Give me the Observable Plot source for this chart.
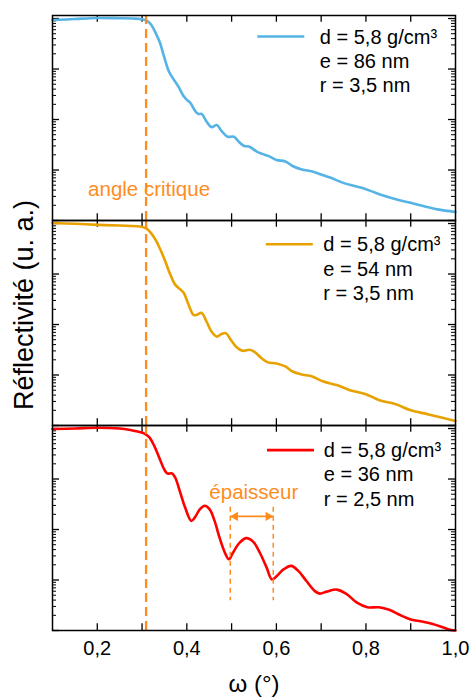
<!DOCTYPE html>
<html><head><meta charset="utf-8">
<script src="https://cdn.jsdelivr.net/npm/d3@7"></script>
<script src="https://cdn.jsdelivr.net/npm/@observablehq/plot@0.6"></script>
<style>
body{margin:0;background:#fff;}
#chart svg{display:block;}
</style>
</head><body><div id="chart"></div>
<script>
// ---- data (ω in degrees, log10 of reflectivity) ----
const panels = ["a", "b", "c"];
const seriesColors = ["#55B3E6", "#E8A200", "#FF0000"];

const blueOmega = [0.10,0.15,0.20,0.25,0.28,0.30,0.312,0.32,0.33,0.34,0.349,0.36,0.371,0.38,0.393,0.40,0.407,0.42,0.426,0.433,0.444,0.455,0.467,0.477,0.491,0.505,0.516,0.527,0.54,0.557,0.568,0.582,0.60,0.62,0.636,0.657,0.68,0.70,0.72,0.748,0.80,0.83,0.867,0.90,0.93,0.96,1.00];
const blueLogR  = [-0.03,-0.01,0.01,0.005,0.0,-0.015,-0.05,-0.12,-0.28,-0.48,-0.75,-1.05,-1.21,-1.33,-1.54,-1.61,-1.66,-1.85,-1.89,-1.89,-2.04,-2.15,-2.11,-2.22,-2.34,-2.34,-2.44,-2.52,-2.54,-2.64,-2.68,-2.72,-2.80,-2.83,-2.92,-2.99,-3.03,-3.09,-3.15,-3.25,-3.38,-3.48,-3.58,-3.65,-3.72,-3.78,-3.83];

const orangeOmega = [0.10,0.15,0.20,0.25,0.295,0.31,0.32,0.33,0.341,0.352,0.363,0.374,0.386,0.393,0.404,0.415,0.422,0.433,0.444,0.455,0.467,0.477,0.487,0.498,0.51,0.524,0.54,0.551,0.567,0.581,0.60,0.62,0.636,0.657,0.68,0.705,0.735,0.764,0.80,0.83,0.867,0.90,0.94,1.00];
const orangeLogR  = [0.01,-0.005,-0.026,-0.04,-0.06,-0.10,-0.19,-0.32,-0.52,-0.75,-1.01,-1.21,-1.31,-1.37,-1.61,-1.81,-1.81,-1.77,-1.94,-2.14,-2.24,-2.19,-2.17,-2.30,-2.44,-2.52,-2.50,-2.54,-2.67,-2.75,-2.77,-2.83,-2.93,-2.99,-3.03,-3.13,-3.20,-3.30,-3.38,-3.50,-3.58,-3.70,-3.78,-3.91];

const redOmega = [0.10,0.15,0.20,0.25,0.274,0.29,0.303,0.316,0.327,0.338,0.349,0.356,0.367,0.374,0.385,0.396,0.41,0.418,0.429,0.44,0.451,0.462,0.473,0.485,0.494,0.503,0.518,0.533,0.548,0.563,0.578,0.59,0.601,0.616,0.633,0.649,0.667,0.686,0.697,0.712,0.735,0.757,0.78,0.803,0.829,0.852,0.878,0.90,0.93,0.949,0.97,0.99,1.00];
const redLogR  = [-0.01,0.0,0.016,0.0,-0.03,-0.06,-0.09,-0.17,-0.34,-0.57,-0.80,-0.89,-0.89,-0.97,-1.26,-1.56,-1.83,-1.76,-1.60,-1.53,-1.60,-1.83,-2.16,-2.46,-2.59,-2.46,-2.26,-2.17,-2.24,-2.46,-2.75,-2.99,-2.92,-2.79,-2.72,-2.82,-3.02,-3.22,-3.27,-3.23,-3.19,-3.28,-3.45,-3.54,-3.54,-3.59,-3.70,-3.78,-3.83,-3.87,-3.93,-3.99,-4.0];

const legendLines = [
  ["d = 5,8 g/cm³", "e = 86 nm", "r = 3,5 nm"],
  ["d = 5,8 g/cm³", "e = 54 nm", "r = 3,5 nm"],
  ["d = 5,8 g/cm³", "e = 36 nm", "r = 2,5 nm"]
];
const xTickLabels = [0.2, 0.4, 0.6, 0.8, 1.0];
const xTickMarks = [0.2, 0.3, 0.4, 0.5, 0.6, 0.7, 0.8, 0.9];
const criticalAngle = 0.309;
const thicknessMarks = [0.497, 0.593];
const thicknessSpanLogR = [-1.56, -3.41];
const thicknessArrowLogR = -1.74;
const thicknessTextLogR = -1.39;
const xLabel = "ω (°)";
const yLabel = "Réflectivité (u. a.)";

// ---- build table ----
const seriesList = [
  {panel: "a", omega: blueOmega, logR: blueLogR},
  {panel: "b", omega: orangeOmega, logR: orangeLogR},
  {panel: "c", omega: redOmega, logR: redLogR}
];
const rows = seriesList.flatMap(s => s.omega.map((w, i) => ({panel: s.panel, w, R: 10 ** s.logR[i]})));
const legend = panels.map((p, i) => ({panel: p, text: legendLines[i].join("\n")}));

// ---- layout / style ----
const W = 469, H = 697, mL = 52, mR = 14, mT = 15, mB = 66.3;
const innerW = W - mL - mR;
const facetH = (H - mT - mB) / 3;
const annot = "#FF8C1F";
const font = "'Liberation Sans', Arial, sans-serif";
const legendStyle = [
  {lineDx: 228.3, lineDy: 21, textDx: 267.3, textDy: 11},
  {lineDx: 236.8, lineDy: 23.8, textDx: 270.7, textDy: 13.8},
  {lineDx: 238, lineDy: 24.6, textDx: 271.3, textDy: 14.6}
];
const hline = {draw(ctx) { ctx.moveTo(-23.5, 0); ctx.lineTo(23.5, 0); }};

const yMajor = d3.range(-4, 1).map(k => 10 ** k);
const yMinor = d3.range(-4, 0).flatMap(k => d3.range(2, 10).map(m => m * 10 ** k));

const chart = Plot.plot({
  width: W, height: H,
  marginLeft: mL, marginRight: mR, marginTop: mT, marginBottom: mB,
  style: {fontFamily: font, color: "#000", background: "#fff", overflow: "visible"},
  x: {domain: [0.1, 1.0]},
  y: {type: "log", domain: [1e-4, 10 ** 0.06], axis: null},
  fy: {domain: panels, padding: 0, axis: null},
  color: {domain: panels, range: seriesColors},
  marks: [
    // inward ticks: left / right (y), bottom / top (x)
    Plot.tickY(yMajor, {y: d => d, insetRight: innerW - 7, strokeWidth: 1.3}),
    Plot.tickY(yMinor, {y: d => d, insetRight: innerW - 4, strokeWidth: 1}),
    Plot.tickY(yMajor, {y: d => d, insetLeft: innerW - 7, strokeWidth: 1.3}),
    Plot.tickY(yMinor, {y: d => d, insetLeft: innerW - 4, strokeWidth: 1}),
    Plot.tickX(xTickMarks, {x: d => d, insetTop: facetH - 7, strokeWidth: 1.3}),
    Plot.tickX(xTickMarks, {x: d => d, insetBottom: facetH - 7, strokeWidth: 1.3}),
    // curves
    Plot.line(rows, {x: "w", y: "R", fy: "panel", z: "panel", stroke: "panel", strokeWidth: 2.6, curve: "catmull-rom"}),
    // critical angle
    Plot.ruleX([criticalAngle], {x: d => d, stroke: annot, strokeWidth: 2.3, strokeDasharray: "9,5"}),
    Plot.text([criticalAngle], {x: d => d, fy: () => "a", text: () => "angle critique", frameAnchor: "bottom",
      lineAnchor: "bottom", dy: -25, dx: 3, fill: annot, fontSize: 20.5}),
    // thickness annotation
    Plot.ruleX(thicknessMarks, {x: d => d, y1: 10 ** thicknessSpanLogR[0], y2: 10 ** thicknessSpanLogR[1],
      fy: () => "c", stroke: annot, strokeWidth: 1.5, strokeDasharray: "5,4"}),
    Plot.link([thicknessMarks], {x1: d => d[0], x2: d => d[1], y1: () => 10 ** thicknessArrowLogR, y2: () => 10 ** thicknessArrowLogR,
      fy: () => "c", stroke: annot, strokeWidth: 1.8}),
    Plot.dot([thicknessMarks[0]], {x: d => d, y: () => 10 ** thicknessArrowLogR, fy: () => "c", symbol: "triangle",
      rotate: -90, r: 3.4, fill: annot, stroke: "none", dx: 5}),
    Plot.dot([thicknessMarks[1]], {x: d => d, y: () => 10 ** thicknessArrowLogR, fy: () => "c", symbol: "triangle",
      rotate: 90, r: 3.4, fill: annot, stroke: "none", dx: -5}),
    Plot.text([thicknessMarks], {x: d => (d[0] + d[1]) / 2, y: () => 10 ** thicknessTextLogR, fy: () => "c",
      text: () => "épaisseur", lineAnchor: "bottom", dx: 2, fill: annot, fontSize: 20.5}),
    // legends
    ...panels.map((p, i) => Plot.dot([legend[i]], {fy: "panel", frameAnchor: "top-left", dx: legendStyle[i].lineDx,
      dy: legendStyle[i].lineDy, symbol: hline, stroke: "panel", strokeWidth: 2.6, fill: "none"})),
    ...panels.map((p, i) => Plot.text([legend[i]], {fy: "panel", frameAnchor: "top-left", dx: legendStyle[i].textDx,
      dy: legendStyle[i].textDy, text: "text", textAnchor: "start", lineAnchor: "top", lineHeight: 1.21,
      fontSize: 20, fill: "#000"})),
    // frame
    Plot.frame({stroke: "#000", strokeWidth: 1.5}),
    // axes
    Plot.axisX({ticks: xTickLabels, anchor: "bottom", tickSize: 0, tickPadding: 10,
      tickFormat: d => d.toFixed(1).replace(".", ","), fontSize: 20, label: null}),
    Plot.text([xLabel], {fy: () => "c", text: d => d, frameAnchor: "bottom", lineAnchor: "bottom", dy: 61, fontSize: 24, fill: "#000"}),
    Plot.text([yLabel], {fy: () => "b", text: d => d, frameAnchor: "left", rotate: -90, lineAnchor: "bottom",
      textAnchor: "middle", dx: -20, dy: -18, fontSize: 27, fill: "#000"})
  ]
});
document.getElementById("chart").appendChild(chart);
</script>
</body></html>
